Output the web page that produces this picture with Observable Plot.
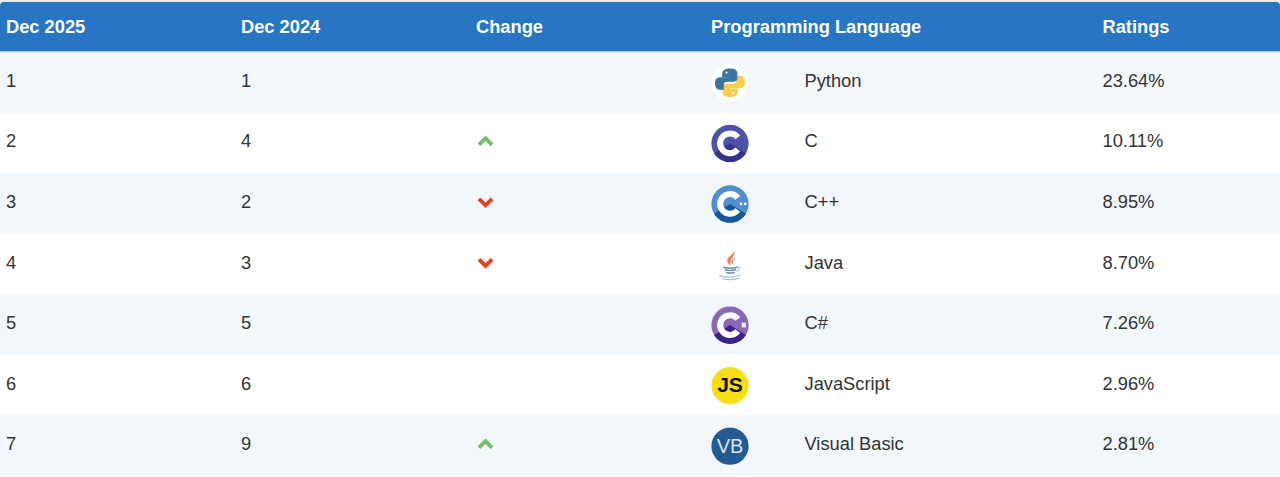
<!DOCTYPE html>
<html><head><meta charset="utf-8">
<script src="https://cdn.jsdelivr.net/npm/d3@7"></script>
<script src="https://cdn.jsdelivr.net/npm/@observablehq/plot@0.6"></script>
<style>html,body{margin:0;padding:0;background:#fff}svg{display:block}</style>
</head><body><div id="chart"></div>
<script>
const headers = ["Dec 2025","Dec 2024","Change","Programming Language","Ratings"];
const rankNow = [1,2,3,4,5,6,7];
const rankPrev = [1,4,2,3,5,6,9];
const languages = ["Python","C","C++","Java","C#","JavaScript","Visual Basic"];
const ratings = ["23.64%","10.11%","8.95%","8.70%","7.26%","2.96%","2.81%"];

const rows = rankNow.map((r,i)=>({row:r,prev:rankPrev[i],lang:languages[i],rating:ratings[i],move:Math.sign(r-rankPrev[i])}));

// layout constants (pixels in the linear x scale)
const colX = {now:5.5,prev:240.5,change:475.5,lang:710.5,name:804,rating:1102};
const headerX = [colX.now,colX.prev,colX.change,colX.lang,colX.rating];
const iconX = 729.5, chevronX = 485, headerRow = -0.42;

const svgUri = s => "data:image/svg+xml;utf8,"+encodeURIComponent(`<svg xmlns="http://www.w3.org/2000/svg" viewBox="0 0 100 100"><defs><filter id="b" x="-5%" y="-5%" width="110%" height="110%"><feGaussianBlur stdDeviation="0.9"/></filter></defs><g filter="url(#b)">${s}</g></svg>`);
const cLogo = (dark,mid,extra) => svgUri(`
 <circle cx="50" cy="50" r="49" fill="${mid}"/>
 <path d="M8 76A49 49 0 0 0 92 76L50 50Z" fill="${dark}"/>
 <path d="M50 16A34 34 0 1 0 76.800 70.900L64.200 61.100A18 18 0 1 1 64.200 38.900L76.800 29.100A34 34 0 0 0 50 16Z" fill="#fff"/>
 ${extra||""}`);
const snake = "M50 14C36 14 31 19 31 26V33H50V37H24C15 37 12 44 12 52C12 61 16 67 24 67H32V56C32 50 37 46 43 46H58C64 46 68 42 68 36V26C68 19 62 14 50 14Z";
const icons = {
 "Python": svgUri(`<circle cx="50" cy="50" r="49" fill="#fff"/>
  <g transform="rotate(180 50 50)"><path d="${snake}" fill="#f6cf4e" stroke="#f6cf4e" stroke-width="3"/><circle cx="41" cy="23" r="3" fill="#fff"/></g>
  <path d="${snake}" fill="#3a74a8" stroke="#3a74a8" stroke-width="3"/><circle cx="41" cy="23" r="3" fill="#fff"/>`),
 "C": cLogo("#33358f","#4e53a8"),
 "C++": cLogo("#14569b","#4f8fd0",`<circle cx="79" cy="50" r="3.5" fill="#fff"/><circle cx="90" cy="50" r="3.5" fill="#fff"/>`),
 "Java": svgUri(`<path d="M60 14C68 28 46 34 52 54C36 42 44 32 52 26C56 23 60 20 60 14Z" fill="#e2836d"/>
  <path d="M68 30C58 36 55 42 60 51C47 44 54 35 68 30Z" fill="#e2836d"/>
  <path d="M32 57C42 60 60 60 70 57M36 64C44 66 58 66 66 64M40 71C47 73 55 73 62 71" stroke="#5a93b5" stroke-width="4" fill="none"/>
  <path d="M70 57C78 56 78 64 67 68" stroke="#7fb0cc" stroke-width="2.500" fill="none"/>
  <path d="M22 78C34 85 64 85 78 77M30 87C42 91 62 91 74 86" stroke="#a6cbe0" stroke-width="3.500" fill="none"/>`),
 "C#": cLogo("#3d2387","#8a67b8",`<rect x="81" y="44" width="11" height="12" fill="#fff" opacity=".9"/>`),
 "JavaScript": svgUri(`<circle cx="50" cy="50" r="49" fill="#f5de19"/>`),
 "Visual Basic": svgUri(`<circle cx="50" cy="50" r="49" fill="#205a92"/>`)
};

const chevron = s => ({draw(ctx,size){
  const w = Math.sqrt(size)*0.8, h = w*0.5;
  ctx.moveTo(-w,h*s); ctx.lineTo(0,-h*s); ctx.lineTo(w,h*s);
}});
const up = chevron(1), down = chevron(-1);
const mid = d => d.row - 0.5;
const textY = d => d.row - 0.53;
const bodyText = {textAnchor:"start",fill:"#333",fontSize:18.3};

const chart = Plot.plot({
  width:1280,height:477,margin:0,
  x:{type:"linear",domain:[0,1280],range:[0,1280],axis:null},
  y:{type:"linear",domain:[0,7],range:[52,476],axis:null},
  style:{fontFamily:"'Liberation Sans',Arial,sans-serif",background:"#fff"},
  marks:[
    // thin strip above the header, then the header band and stripes
    Plot.rect([{r:1}],{x1:0,x2:1280,y1:-0.86,y2:-0.6,fill:"#e6ebf0"}),
    Plot.rect([{r:1}],{x1:0,x2:1280,y1:-0.825,y2:-0.2,fill:"#2775c3",rx:4}),
    Plot.rect([{r:1}],{x1:0,x2:1280,y1:-0.5,y2:0,fill:"#2775c3"}),
    Plot.rect(rows.filter(d=>d.row%2===1),{x1:0,x2:1280,y1:d=>d.row-1,y2:d=>d.row,fill:"#f2f7fc"}),
    Plot.rect([{r:1}],{x1:0,x2:1280,y1:-0.012,y2:0.012,fill:"#dbe6f1"}),
    Plot.text(headers,{x:(d,i)=>headerX[i],y:()=>headerRow,text:d=>d,textAnchor:"start",fill:"#fff",fontWeight:"bold",fontSize:18.3}),
    Plot.text(rows,{x:colX.now,y:textY,text:d=>String(d.row),...bodyText}),
    Plot.text(rows,{x:colX.prev,y:textY,text:d=>String(d.prev),...bodyText}),
    Plot.dot(rows.filter(d=>d.move<0),{x:chevronX,y:textY,r:4.6,symbol:up,stroke:"#76bd6c",strokeWidth:3.8,fill:"none",strokeLinejoin:"miter",strokeLinecap:"butt"}),
    Plot.dot(rows.filter(d=>d.move>0),{x:chevronX,y:textY,r:4.6,symbol:down,stroke:"#e8401c",strokeWidth:3.8,fill:"none",strokeLinejoin:"miter",strokeLinecap:"butt"}),
    Plot.image(rows,{x:iconX,y:mid,src:d=>icons[d.lang],width:38,height:38}),
    Plot.text(["JS"],{x:iconX,y:()=>5.5,text:d=>d,fill:"#111",fontWeight:"bold",fontSize:21}),
    Plot.text(["VB"],{x:iconX,y:()=>6.5,text:d=>d,fill:"#dbe5f0",fontSize:20}),
    Plot.text(rows,{x:colX.name,y:textY,text:"lang",...bodyText}),
    Plot.text(rows,{x:colX.rating,y:textY,text:"rating",...bodyText})
  ]
});
document.getElementById("chart").append(chart);
</script></body></html>
